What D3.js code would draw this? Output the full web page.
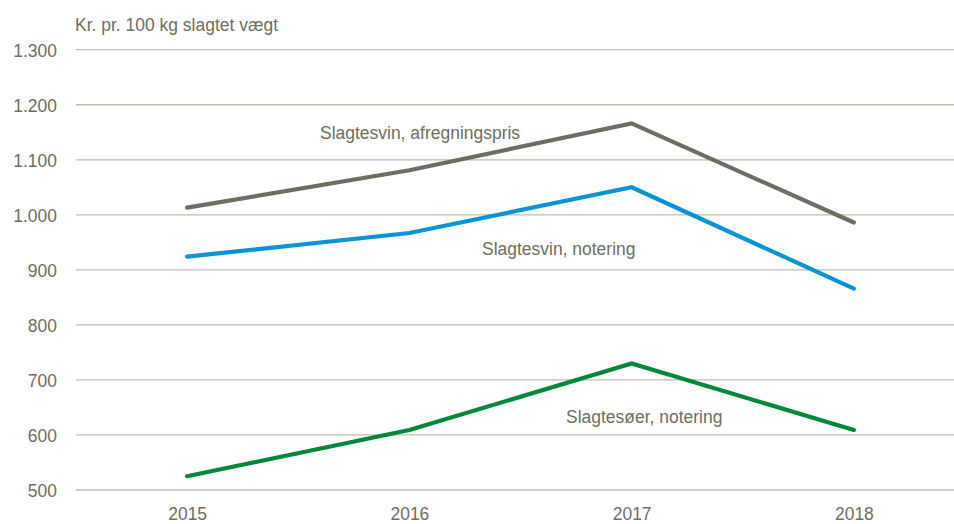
<!DOCTYPE html>
<html>
<head>
<meta charset="utf-8">
<script src="https://cdn.jsdelivr.net/npm/d3@7"></script>
<style>
  body { margin: 0; background: #fff; }
  text { font-family: "Liberation Sans Narrow", "Arial Narrow", "Liberation Sans", sans-serif; fill: #6e6e62; }
</style>
</head>
<body>
<svg id="canvas"></svg>
<script>
let years = ['2015', '2016', '2017', '2018'];
let afregning = [1013, 1081, 1166, 986];
let notering = [924, 967, 1050, 866];
let soeer = [525, 609, 730, 609];
let yTicks = [500, 600, 700, 800, 900, 1000, 1100, 1200, 1300];

let width = 954;
let height = 524;
let squeeze = 'scale(0.92,1)'; // narrow look without a narrow font

let canvas = d3.select('#canvas')
    .attr('width', width)
    .attr('height', height);

let xScale = d3.scalePoint()
    .domain(years)
    .range([76, 965])
    .padding(0.5);

let yScale = d3.scaleLinear()
    .domain([500, 1300])
    .range([490, 49.7]);

let fmt = (v) => d3.format(',')(v).replace(',', '.');

// gridlines
canvas.append('g')
    .selectAll('line')
    .data(yTicks)
    .enter()
    .append('line')
    .attr('x1', 76)
    .attr('x2', width)
    .attr('y1', (d) => yScale(d))
    .attr('y2', (d) => yScale(d))
    .attr('stroke', (d) => d === 500 ? '#cfcdc4' : '#bdbcae')
    .attr('stroke-width', (d) => d === 500 ? 2 : 1.3);

// y axis labels
let yAxis = d3.axisLeft(yScale).tickValues(yTicks).tickFormat(fmt).tickSize(0).tickPadding(0);
let gy = canvas.append('g')
    .attr('id', 'y-axis')
    .attr('transform', 'translate(57, 0)')
    .call(yAxis);
gy.select('.domain').remove();
gy.selectAll('text').attr('font-size', 19).attr('dy', '0.35em').attr('transform', squeeze)
    .style('font-family', '"Liberation Sans Narrow", "Arial Narrow", sans-serif').attr('fill', '#6e6e62');

// x axis labels
let xAxis = d3.axisBottom(xScale).tickSize(0).tickPadding(0);
let gx = canvas.append('g')
    .attr('id', 'x-axis')
    .attr('transform', 'translate(0, 507)')
    .call(xAxis);
gx.select('.domain').remove();
gx.selectAll('text').attr('font-size', 19).attr('dy', '0.71em').attr('transform', squeeze)
    .style('font-family', '"Liberation Sans Narrow", "Arial Narrow", sans-serif').attr('fill', '#6e6e62');

// unit title
canvas.append('text')
    .attr('transform', 'translate(75,31) ' + squeeze)
    .attr('font-size', 19)
    .text('Kr. pr. 100 kg slagtet vægt');

let series = [
    { name: 'Slagtesvin, afregningspris', values: afregning, color: '#6d6d62' },
    { name: 'Slagtesvin, notering', values: notering, color: '#0b93d5' },
    { name: 'Slagtesøer, notering', values: soeer, color: '#00873d' }
];

let line = d3.line()
    .x((d, i) => xScale(years[i]))
    .y((d) => yScale(d));

canvas.selectAll('path.series')
    .data(series)
    .enter()
    .append('path')
    .attr('class', 'series')
    .attr('fill', 'none')
    .attr('stroke', (s) => s.color)
    .attr('stroke-width', 4.2)
    .attr('stroke-linecap', 'round')
    .attr('stroke-linejoin', 'miter')
    .attr('d', (s) => line(s.values));

// series labels
let labelPos = [[320, 139], [482, 255], [566, 423]];
canvas.selectAll('text.label')
    .data(series)
    .enter()
    .append('text')
    .attr('class', 'label')
    .attr('transform', (s, i) => 'translate(' + labelPos[i][0] + ',' + labelPos[i][1] + ') ' + squeeze)
    .attr('font-size', 19)
    .text((s) => s.name);
</script>
</body>
</html>
